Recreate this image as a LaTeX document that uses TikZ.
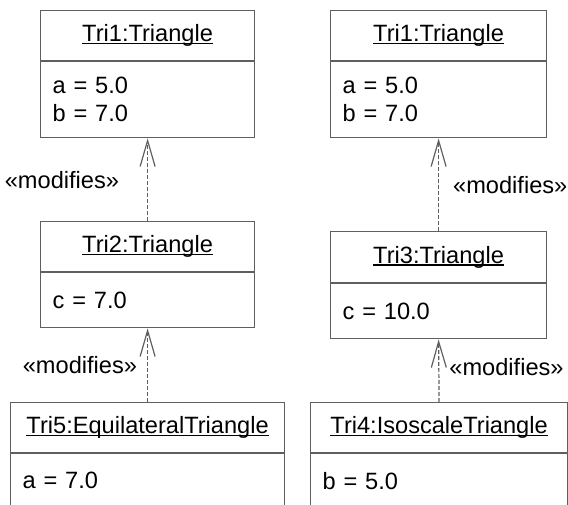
\documentclass[tikz,border=0pt]{standalone}
\usepackage{fontspec}
\setmainfont{Liberation Sans}
\usetikzlibrary{arrows.meta,positioning}

\definecolor{linegray}{RGB}{95,95,95}
% underline close to the baseline
\newcommand{\objul}[1]{\setbox0\hbox{#1}\rlap{\rule[-1.2pt]{\wd0}{0.6pt}}\box0}

\begin{document}
\begin{tikzpicture}[x=1pt, y=1pt, line width=0.6pt,
    font=\fontsize{11.8}{14}\selectfont,
    objname/.style={draw=linegray, anchor=north west, inner sep=0pt, minimum height=25pt},
    objattr/.style={draw=linegray, anchor=north west, inner xsep=6pt, inner ysep=0pt, align=left},
    modifies/.style={draw=linegray, dash pattern=on 2pt off 1pt,
        -{Straight Barb[length=13pt, width=7.5pt, line width=0.6pt]}},
    modlabel/.style={inner sep=0pt}]
    \useasboundingbox (0,0) rectangle (284,252);
    \clip (0,0) rectangle (284,252);
    % Left column
    \node[objname, minimum width=107pt] (tri1l-name) at (20,247) {\objul{Tri1:Triangle}};
    \node[objattr, text width=95pt, minimum height=38pt] (tri1l-attr) at (tri1l-name.south west) {a = 5.0\\b = 7.0};
    \node[objname, minimum width=107pt] (tri2-name) at (20,141.5) {\objul{Tri2:Triangle}};
    \node[objattr, text width=95pt, minimum height=27.5pt] (tri2-attr) at (tri2-name.south west) {c = 7.0};
    \node[objname, minimum width=137pt] (tri5-name) at (5,51) {\objul{Tri5:EquilateralTriangle}};
    \node[objattr, text width=125pt, minimum height=27pt] (tri5-attr) at (tri5-name.south west) {a = 7.0};
    % Right column
    \node[objname, minimum width=108pt] (tri1r-name) at (165,247) {\objul{Tri1:Triangle}};
    \node[objattr, text width=96pt, minimum height=38pt] (tri1r-attr) at (tri1r-name.south west) {a = 5.0\\b = 7.0};
    \node[objname, minimum width=108pt, minimum height=25.5pt] (tri3-name) at (165,136.5) {\objul{Tri3:Triangle}};
    \node[objattr, text width=96pt, minimum height=27.5pt] (tri3-attr) at (tri3-name.south west) {c = 10.0};
    \node[objname, minimum width=128.5pt] (tri4-name) at (155,51) {\objul{Tri4:IsoscaleTriangle}};
    \node[objattr, text width=116.5pt, minimum height=27pt] (tri4-attr) at (tri4-name.south west) {b = 5.0};
    % Draw dependencies
    \draw[modifies] (tri2-name.north) -- (tri1l-attr.south) node[modlabel, midway, left=14pt] {«modifies»};
    \draw[modifies] (tri5-name.north) -- (tri2-attr.south) node[modlabel, midway, left=5pt] {«modifies»};
    \draw[modifies] (tri3-name.north) -- (tri1r-attr.south) node[modlabel, midway, right=7pt] {«modifies»};
    \draw[modifies] (tri4-name.north) -- (tri3-attr.south) node[modlabel, midway, right=5pt, yshift=2pt] {«modifies»};
\end{tikzpicture}
\end{document}
